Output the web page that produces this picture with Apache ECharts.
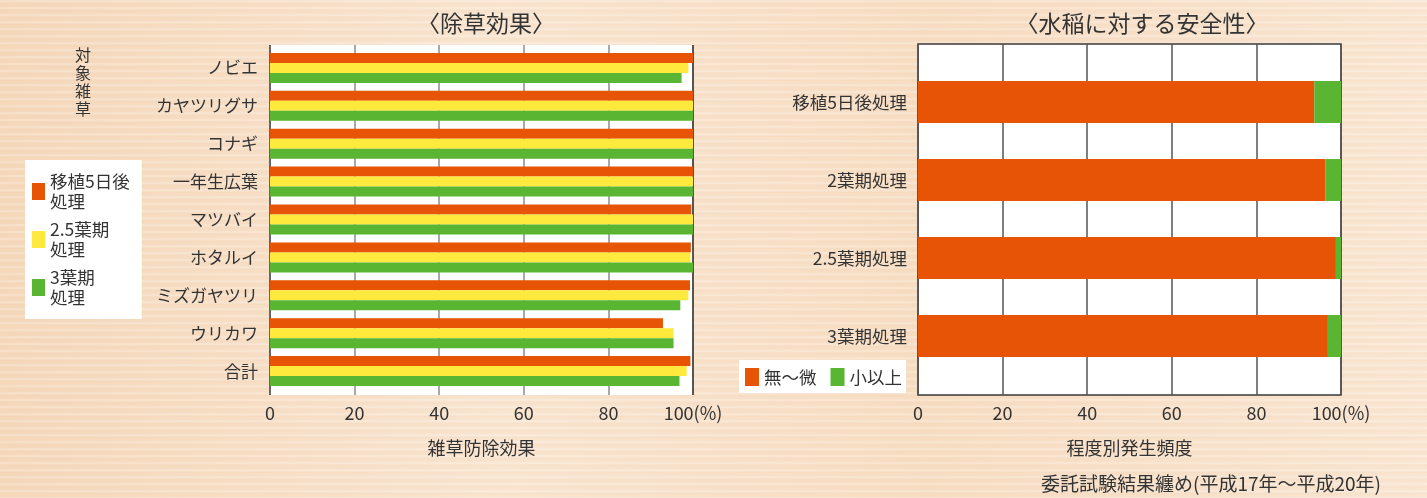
<!DOCTYPE html>
<html>
<head>
<meta charset="utf-8">
<script src="https://cdn.jsdelivr.net/npm/echarts@6/dist/echarts.min.js"></script>
<style>
html, body { margin: 0; padding: 0; }
body {
    width: 1427px; height: 498px; overflow: hidden;
    background-color: #f8e1ca;
    background-image:
        repeating-linear-gradient(180deg, rgba(255,255,255,0.18) 0px, rgba(255,255,255,0.18) 2px, rgba(230,190,150,0.10) 3px, rgba(255,255,255,0) 7px),
        linear-gradient(90deg, #f5d8bb 0%, #f9e5d1 35%, #f7ddc3 65%, #f9e6d3 100%);
}
#main { width: 1427px; height: 498px; }
</style>
</head>
<body>
<div id="main"></div>
<script>
// 除草効果 (%)
var weeds = ['ノビエ', 'カヤツリグサ', 'コナギ', '一年生広葉', 'マツバイ', 'ホタルイ', 'ミズガヤツリ', 'ウリカワ', '合計'];
var after5Days = [100, 100, 100, 100, 99.6, 99.5, 99.3, 92.9, 99.4];
var leaf25 = [98.9, 100, 100, 100, 100, 99.4, 98.9, 95.4, 98.5];
var leaf3 = [97.3, 100, 100, 100, 100, 100, 97.0, 95.4, 96.8];

// 水稲に対する安全性 (%)
var timings = ['移植5日後処理', '2葉期処理', '2.5葉期処理', '3葉期処理'];
var slight = [93.7, 96.3, 98.8, 96.9];
var moderate = [6.3, 3.7, 1.2, 3.1];

var xTicks = ['0', '20', '40', '60', '80', '100(%)'];

var FONT = '"Noto Sans CJK JP", "Noto Sans", sans-serif';
var TXT = '#333';
var ORANGE = '#e85405', YELLOW = '#ffe93c', GREEN = '#5ab532';

function tickLabel(v) {
    return xTicks[Math.round(v / 20)];
}

var chart = echarts.init(document.getElementById('main'));
chart.setOption({
    textStyle: { fontFamily: FONT, color: TXT },
    animation: false,
    title: [
        { text: '〈除草効果〉', left: 481, top: 7, textAlign: 'center',
          textStyle: { fontSize: 23, fontWeight: 'normal', color: TXT, fontFamily: FONT } },
        { text: '〈水稲に対する安全性〉', left: 1137, top: 7, textAlign: 'center',
          textStyle: { fontSize: 23, fontWeight: 'normal', color: TXT, fontFamily: FONT } },
        { text: '対\n象\n雑\n草', left: 70, top: 41,
          textStyle: { fontSize: 16, lineHeight: 18, fontWeight: 'normal', color: TXT, fontFamily: FONT } },
        { text: '委託試験結果纏め(平成17年～平成20年)', right: 41, top: 469,
          textStyle: { fontSize: 19, fontWeight: 'normal', color: TXT, fontFamily: FONT } }
    ],
    legend: [
        {
            orient: 'vertical', left: 25, top: 160,
            backgroundColor: '#fff', padding: [12, 12, 12, 7],
            itemWidth: 13, itemHeight: 17, itemGap: 9, icon: 'rect',
            textStyle: { fontSize: 17.5, lineHeight: 19.5, color: TXT, fontFamily: FONT },
            data: ['移植5日後\n処理', '2.5葉期\n処理', '3葉期\n処理']
        },
        {
            orient: 'horizontal', left: 739, top: 360,
            backgroundColor: '#fff', padding: [8, 4, 7, 6],
            itemWidth: 14, itemHeight: 18, itemGap: 14, icon: 'rect',
            textStyle: { fontSize: 17.5, color: TXT, fontFamily: FONT },
            data: ['無～微', '小以上']
        }
    ],
    grid: [
        { left: 270, right: 734, top: 45, bottom: 103, show: true, backgroundColor: '#fff', borderWidth: 0 },
        { left: 270, right: 734, top: 49, bottom: 108 },
        { left: 918, right: 86, top: 44, bottom: 103, show: true, backgroundColor: '#fff', borderColor: '#3a3a3a', borderWidth: 1.5 },
        { left: 918, right: 86, top: 63, bottom: 123 }
    ],
    xAxis: [
        {
            gridIndex: 0, type: 'value', min: 0, max: 100, interval: 20,
            axisLine: { show: false }, axisTick: { show: false },
            axisLabel: { formatter: tickLabel, fontSize: 18, color: TXT, margin: 9 },
            splitLine: { show: true, lineStyle: { width: 2, color: ['#666', '#a8a8a8', '#a8a8a8', '#a8a8a8', '#a8a8a8', '#555'] } },
            name: '雑草防除効果', nameLocation: 'middle', nameGap: 44,
            nameTextStyle: { fontSize: 18, color: TXT }
        },
        { gridIndex: 1, type: 'value', min: 0, max: 100, show: false },
        {
            gridIndex: 2, type: 'value', min: 0, max: 100, interval: 20,
            axisLine: { show: false }, axisTick: { show: false },
            axisLabel: { formatter: tickLabel, fontSize: 18, color: TXT, margin: 9 },
            splitLine: { show: true, lineStyle: { width: 1.5, color: '#555' } },
            name: '程度別発生頻度', nameLocation: 'middle', nameGap: 44,
            nameTextStyle: { fontSize: 18, color: TXT }
        },
        { gridIndex: 3, type: 'value', min: 0, max: 100, show: false }
    ],
    yAxis: [
        { gridIndex: 0, type: 'value', min: 0, max: 1, show: false },
        {
            gridIndex: 1, type: 'category', inverse: true, data: weeds,
            axisLine: { show: false }, axisTick: { show: false },
            axisLabel: { fontSize: 17, color: TXT, margin: 12 }
        },
        { gridIndex: 2, type: 'value', min: 0, max: 1, show: false },
        {
            gridIndex: 3, type: 'category', inverse: true, data: timings,
            axisLine: { show: false }, axisTick: { show: false },
            axisLabel: { fontSize: 17.5, color: TXT, margin: 11 }
        }
    ],
    series: [
        { name: '移植5日後\n処理', type: 'bar', xAxisIndex: 1, yAxisIndex: 1, data: after5Days,
          barWidth: 10, barGap: '0%', itemStyle: { color: ORANGE } },
        { name: '2.5葉期\n処理', type: 'bar', xAxisIndex: 1, yAxisIndex: 1, data: leaf25,
          barWidth: 10, barGap: '0%', itemStyle: { color: YELLOW } },
        { name: '3葉期\n処理', type: 'bar', xAxisIndex: 1, yAxisIndex: 1, data: leaf3,
          barWidth: 10, barGap: '0%', itemStyle: { color: GREEN } },
        { name: '無～微', type: 'bar', stack: 'safe', xAxisIndex: 3, yAxisIndex: 3, data: slight,
          barWidth: 42, itemStyle: { color: ORANGE } },
        { name: '小以上', type: 'bar', stack: 'safe', xAxisIndex: 3, yAxisIndex: 3, data: moderate,
          barWidth: 42, itemStyle: { color: GREEN } }
    ]
});
</script>
</body>
</html>
